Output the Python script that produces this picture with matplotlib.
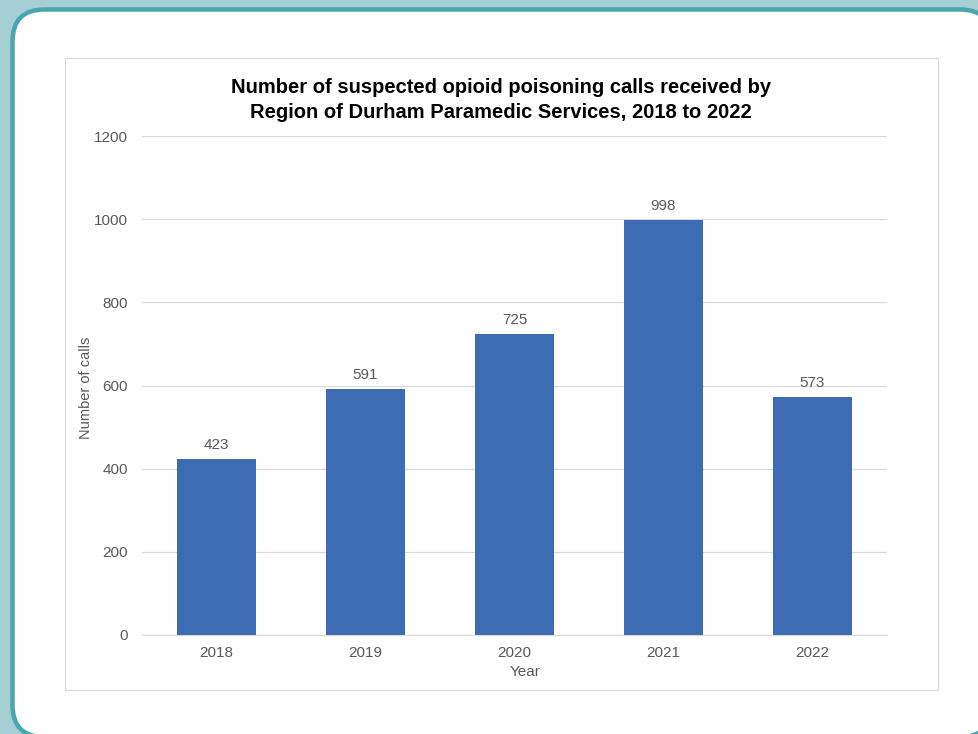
import matplotlib
matplotlib.use("Agg")
import matplotlib.pyplot as plt
from matplotlib.patches import FancyBboxPatch, Rectangle

years = ["2018", "2019", "2020", "2021", "2022"]
calls = [423, 591, 725, 998, 573]
yticks = [0, 200, 400, 600, 800, 1000, 1200]

plt.rcParams['font.family'] = ['Liberation Sans', 'DejaVu Sans']

W, H = 979, 734
fig = plt.figure(figsize=(W / 100, H / 100), dpi=100)
fig.patch.set_facecolor('#a6cfd4')

# rounded white panel with teal border (pixel coordinates)
panel = FancyBboxPatch((12.5, -3), 992 - 12.5, 734 - 9.5 + 3,
                       boxstyle="round,pad=0,rounding_size=32",
                       facecolor='white', edgecolor='#49a6ae',
                       linewidth=4.5 * 0.72, transform=None, zorder=0)
fig.patches.append(panel)

# chart frame
frame = Rectangle((64.5, H - 689.5), 873, 632, facecolor='white',
                  edgecolor='#d9d9d9', linewidth=0.9, transform=None, zorder=1)
fig.patches.append(frame)

ax = fig.add_axes([142 / W, (H - 635) / H, (887 - 142) / W, (635 - 136) / H])
ax.set_zorder(2)
ax.patch.set_alpha(0)

x = range(len(years))
bars = ax.bar(x, calls, width=0.53, color='#3d6cb4', zorder=3)
ax.set_xlim(-0.5, len(years) - 0.5)
ax.set_ylim(0, 1200)
ax.set_yticks(yticks)
ax.set_xticks(list(x))
ax.set_xticklabels(years)
ax.grid(axis='y', color='#d9d9d9', linewidth=0.9, zorder=0)
ax.set_axisbelow(True)
for s in ['top', 'right', 'left']:
    ax.spines[s].set_visible(False)
ax.spines['bottom'].set_color('#d9d9d9')
ax.spines['bottom'].set_linewidth(0.9)
ax.tick_params(axis='both', length=0, labelsize=11, labelcolor='#595959')
ax.tick_params(axis='y', pad=10)
ax.tick_params(axis='x', pad=8)

for xi, v in zip(x, calls):
    ax.annotate(str(v), (xi, v), xytext=(0, 5), textcoords='offset points',
                ha='center', va='bottom', fontsize=11, color='#595959')

fig.text(501 / W, (H - 100) / H,
         "Number of suspected opioid poisoning calls received by\nRegion of Durham Paramedic Services, 2018 to 2022",
         ha='center', va='center', fontsize=14.5, fontweight='bold', color='black',
         linespacing=1.35)
fig.text(86 / W, (H - 388) / H, "Number of calls", rotation=90,
         ha='center', va='center', fontsize=10.5, color='#595959')
fig.text(525 / W, (H - 672) / H, "Year", ha='center', va='center',
         fontsize=11, color='#595959')

fig.savefig("out.png", dpi=100, facecolor=fig.get_facecolor())
